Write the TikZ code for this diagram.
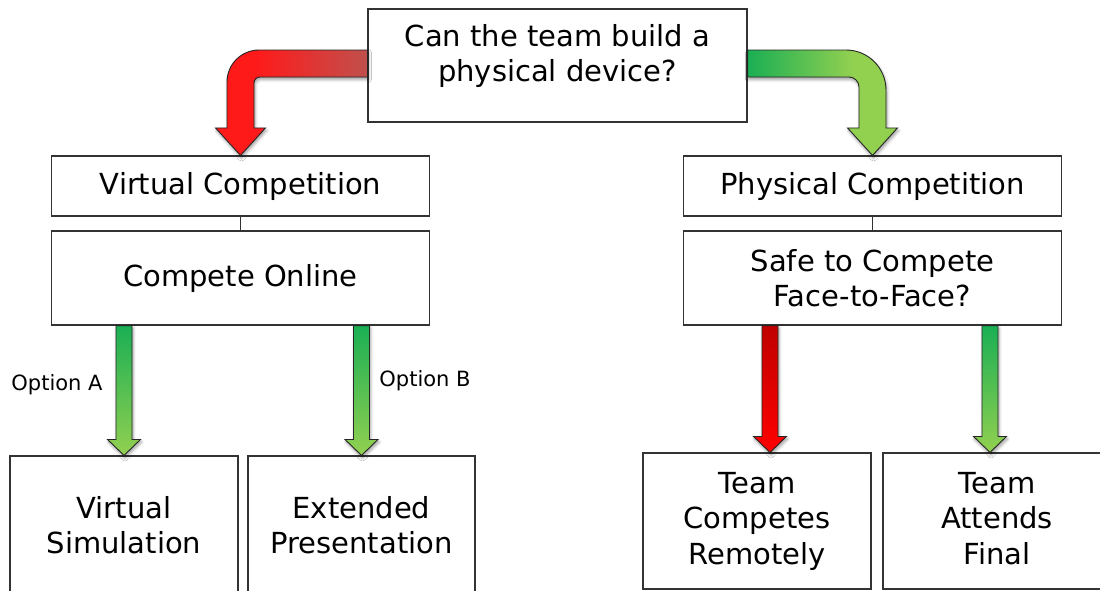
\documentclass[tikz,border=0pt]{standalone}
\usepackage{fontspec}
\setmainfont{DejaVu Sans}
\usetikzlibrary{calc,shadows.blur}

\definecolor{failred}{HTML}{FF1A1A}
\definecolor{failbrown}{HTML}{C0504D}
\definecolor{faildark}{HTML}{C00000}
\definecolor{passgreen}{HTML}{1AAF54}
\definecolor{passlime}{HTML}{92D050}

% sideways shadings for the two bent arrows
\pgfdeclarehorizontalshading{redbend}{100bp}{color(0bp)=(failred); color(38bp)=(failred); color(75bp)=(failbrown); color(100bp)=(failbrown)}
\pgfdeclarehorizontalshading{greenbend}{100bp}{color(0bp)=(passgreen); color(25bp)=(passgreen); color(60bp)=(passlime); color(100bp)=(passlime)}

\tikzset{
  box/.style={draw=black!80, line width=1.1pt, fill=white, align=center, inner sep=0pt,
    font=\fontsize{29}{35.5}\selectfont},
  boxtext/.style={align=center, inner sep=0pt, font=\fontsize{29}{35.5}\selectfont},
  optlabel/.style={inner sep=0pt, font=\fontsize{21}{25}\selectfont},
  blockarrow/.style={draw=black!85, line width=0.9pt,
    blur shadow={shadow xshift=1pt, shadow yshift=-2.5pt, shadow blur radius=3pt, shadow opacity=40}},
}

% straight block arrow: from #1 straight down to the height of #2
\newcommand{\downarrowto}[3]{%
  \path[blockarrow, #3] let \p1=(#1), \p2=(#2) in
    (\x1-8pt,\y1) -- (\x1+8pt,\y1) -- (\x1+8pt,\y2+16pt) -- (\x1+16.5pt,\y2+16pt)
    -- (\x1,\y2) -- (\x1-16.5pt,\y2+16pt) -- (\x1-8pt,\y2+16pt) -- cycle;}

\begin{document}
\begin{tikzpicture}[x=1pt, y=-1pt]
    \useasboundingbox (0,0) rectangle (1100,590);
    \clip (0,0) rectangle (1100,590);

    % Question at the top
    \node[box, minimum width=379, minimum height=113] (q) at (557.5,65.5) {};
    \node[boxtext] (qtxt) at ([yshift=9.5pt]q.center) {Can the team build a\\physical device?};

    % Virtual branch
    \node[box, minimum width=378, minimum height=60] (vc) at (240.5,186) {Virtual Competition};
    \node[box, minimum width=378, minimum height=94] (co) at (240.5,278) {Compete Online};
    \node[box, minimum width=228, minimum height=138] (vs) at (124,525) {Virtual\\Simulation};
    \node[box, minimum width=227, minimum height=138] (ep) at (361.5,525) {Extended\\Presentation};

    % Physical branch
    \node[box, minimum width=378, minimum height=60] (pc) at (872.5,186) {Physical Competition};
    \node[box, minimum width=378, minimum height=94] (sf) at (872.5,278) {Safe to Compete\\Face-to-Face?};
    \node[box, minimum width=228, minimum height=136] (tr) at (757,521) {Team\\Competes\\Remotely};
    \node[box, minimum width=228, minimum height=136] (tf) at (997,521) {Team\\Attends\\Final\vphantom{y}};

    % Short links
    \draw[black!80, line width=1.1pt] (vc.south) -- (co.north);
    \draw[black!80, line width=1.1pt] (pc.south) -- (sf.north);

    % Bent arrow to the left (no)
    \path[blockarrow, shading=redbend] let \p1=(q.west), \p2=(vc.north) in
      (\x1,\y1+15.5pt) -- (\x2+18.5pt,\y1+15.5pt)
      .. controls (\x2+0.8pt,\y1+15.5pt) and (\x2-13.5pt,\y1+1.2pt) .. (\x2-13.5pt,\y1-16.5pt)
      -- (\x2-13.5pt,\y2+27.5pt) -- (\x2-25pt,\y2+27.5pt) -- (\x2,\y2)
      -- (\x2+25pt,\y2+27.5pt) -- (\x2+13.5pt,\y2+27.5pt) -- (\x2+13.5pt,\y1-17.5pt)
      .. controls (\x2+13.5pt,\y1-14.2pt) and (\x2+16.2pt,\y1-11.5pt) .. (\x2+19.5pt,\y1-11.5pt)
      -- (\x1,\y1-11.5pt) -- cycle;

    % Bent arrow to the right (yes)
    \path[blockarrow, shading=greenbend] let \p1=(q.east), \p2=(pc.north) in
      (\x1,\y1+15.5pt) -- (\x2-26.5pt,\y1+15.5pt)
      .. controls (\x2-4.4pt,\y1+15.5pt) and (\x2+13.5pt,\y1-2.4pt) .. (\x2+13.5pt,\y1-24.5pt)
      -- (\x2+13.5pt,\y2+27.5pt) -- (\x2+25pt,\y2+27.5pt) -- (\x2,\y2)
      -- (\x2-25pt,\y2+27.5pt) -- (\x2-13.5pt,\y2+27.5pt) -- (\x2-13.5pt,\y1-21.5pt)
      .. controls (\x2-13.5pt,\y1-16pt) and (\x2-18pt,\y1-11.5pt) .. (\x2-23.5pt,\y1-11.5pt)
      -- (\x1,\y1-11.5pt) -- cycle;

    % Options below the online box
    \downarrowto{co.south -| vs.north}{vs.north}{top color=passgreen, bottom color=passlime}
    \downarrowto{co.south -| ep.north}{ep.north}{top color=passgreen, bottom color=passlime}
    \node[optlabel] (opta) at (57,385) {Option A};
    \node[optlabel] (optb) at (425,381) {Option B};

    % Outcomes below the safety question
    \downarrowto{$(sf.south -| tr.north)+(13,0)$}{tr.north}{top color=faildark, bottom color=red}
    \downarrowto{$(sf.south -| tf.north)+(-7,0)$}{tf.north}{top color=passgreen, bottom color=passlime}
\end{tikzpicture}
\end{document}
